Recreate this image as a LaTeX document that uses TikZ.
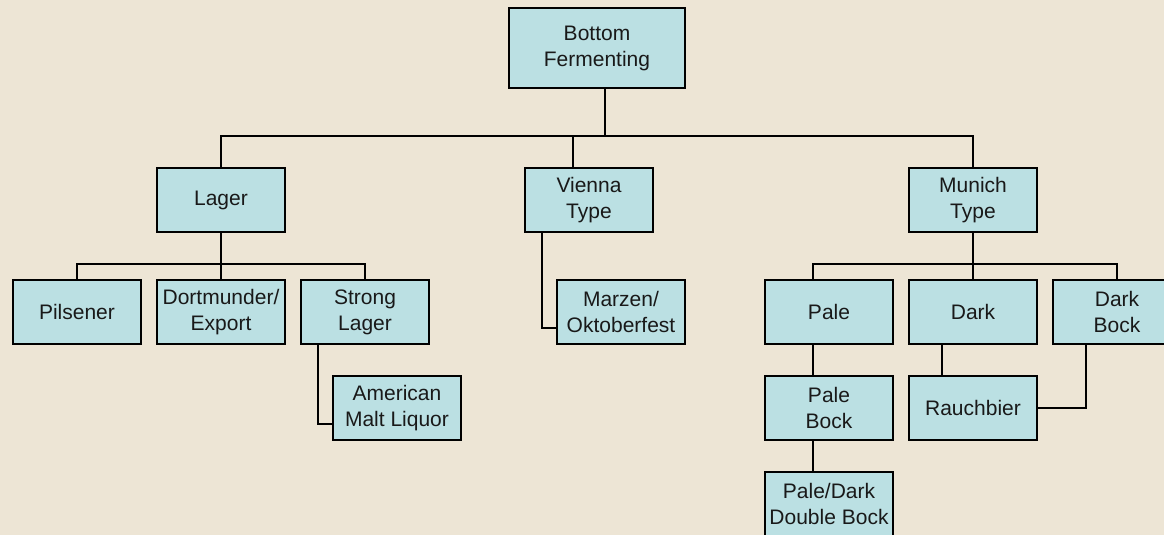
\documentclass[tikz,border=0pt]{standalone}
\usepackage{fontspec}
\setmainfont{Liberation Sans}
\usetikzlibrary{positioning}
\definecolor{parchment}{RGB}{237,229,213}
\definecolor{boxcyan}{RGB}{187,224,227}
\tikzstyle{beer box}=[
        draw = black,
        line width = 1.3pt,
        fill = boxcyan,
        text = black!90,
        minimum width = 128pt,
        minimum height = 64pt,
        inner sep = 2pt,
        align = center,
        font = \fontsize{21}{26}\selectfont
    ]
\tikzstyle{top box}=[
    beer box,
    minimum width = 176pt,
    minimum height = 80pt
]
\tikzstyle{link}=[line width = 1.3pt]
\tikzstyle{main link}=[line width = 1.8pt]

\begin{document}
\begin{tikzpicture}[x=1pt, y=-1pt, node distance={96pt}]
        \useasboundingbox (0,0) rectangle (1164,535);
        \clip (0,0) rectangle (1164,535);
        \fill[parchment] (0,0) rectangle (1164,535);

        \node[top box] (root) at (597,48) {Bottom\\Fermenting};
        \node[beer box] (lager) at (221,200) {Lager};
        \node[beer box] (vienna) at (589,200) {Vienna\\Type};
        \node[beer box] (munich) at (973,200) {Munich\\Type};

        \node[beer box] (pilsener) at (77,312) {Pilsener};
        \node[beer box] (dortmunder) at (221,312) {Dortmunder/\\Export};
        \node[beer box] (strong) at (365,312) {Strong\\Lager};
        \node[beer box] (aml) [below of = strong, xshift = 32pt] {American\\Malt Liquor};
        \node[beer box] (marzen) at (621,312) {Marzen/\\Oktoberfest};

        \node[beer box] (pale) at (829,312) {Pale};
        \node[beer box] (dark) at (973,312) {Dark};
        \node[beer box] (darkbock) at (1117,312) {Dark\\Bock};
        \node[beer box] (palebock) [below of = pale] {Pale\\Bock};
        \node[beer box] (doublebock) [below of = palebock] {Pale/Dark\\Double Bock};
        \node[beer box] (rauchbier) [below of = dark] {Rauchbier};

        \coordinate (topbar) at (605,136);
        \coordinate (lagerbar) at (221,264);
        \coordinate (munichbar) at (973,264);

        \draw[main link] ([xshift=8pt]root.south) -- (topbar);
        \draw[main link] (lager.north) |- (topbar) -| (munich.north);
        \draw[main link] ([xshift=-16pt]vienna.north) |- (topbar);

        \draw[link] (lager.south) -- (dortmunder.north);
        \draw[link] (pilsener.north) |- (lagerbar) -| (strong.north);
        \draw[link] ([xshift=-47pt]strong.south) |- ([yshift=-16pt]aml.west);
        \draw[link] ([xshift=-47pt]vienna.south) |- ([yshift=-16pt]marzen.west);

        \draw[link] (munich.south) -- (dark.north);
        \draw[link] ([xshift=-16pt]pale.north) |- (munichbar) -| (darkbock.north);
        \draw[link] ([xshift=-16pt]pale.south) -- ([xshift=-16pt]palebock.north);
        \draw[link] ([xshift=-16pt]palebock.south) -- ([xshift=-16pt]doublebock.north);
        \draw[link] ([xshift=-31pt]dark.south) -- ([xshift=-31pt]rauchbier.north);
        \draw[link] ([xshift=-31pt]darkbock.south) |- (rauchbier.east);

    \end{tikzpicture}
\end{document}
